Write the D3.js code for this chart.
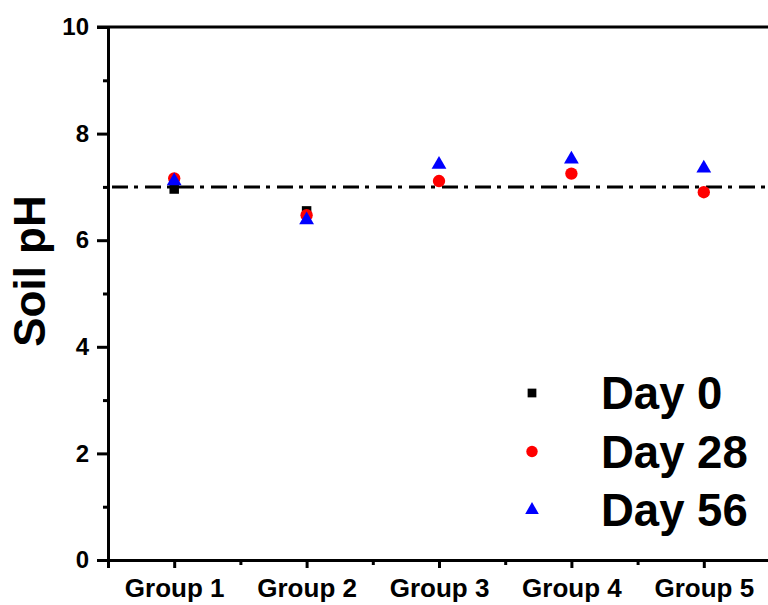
<!DOCTYPE html>
<html>
<head>
<meta charset="utf-8">
<script src="https://cdn.jsdelivr.net/npm/d3@7"></script>
<style>
  body { margin: 0; background: #fff; }
  svg text { font-family: 'Liberation Sans', Arial, sans-serif; font-weight: bold; }
</style>
</head>
<body>
<svg width="768" height="605"></svg>
<script>
const groups = ['Group 1', 'Group 2', 'Group 3', 'Group 4', 'Group 5']
const day0 = [6.96, 6.55, null, null, null]
const day28 = [7.16, 6.47, 7.11, 7.25, 6.90]
const day56 = [7.11, 6.38, 7.42, 7.52, 7.35]
const yTicks = [0, 2, 4, 6, 8, 10]
const refLine = 7

const width = 768
const height = 605
const margin = { top: 27, bottom: 45, left: 108, right: -2 }

const svg = d3.select('svg')

const xScale = d3.scaleLinear()
  .domain([0.5, groups.length + 0.5])
  .range([margin.left, width - margin.right])

const yScale = d3.scaleLinear()
  .domain([0, 10])
  .range([height - margin.bottom, margin.top])

/** y axis with outward major and minor ticks */
const yAxis = d3.axisLeft(yScale).tickValues(yTicks).tickSize(11).tickPadding(8)
const yMinor = d3.axisLeft(yScale).tickValues([1, 3, 5, 7, 9]).tickSize(5).tickFormat('')

const gy = svg.append('g').attr('transform', `translate(${margin.left},0)`).call(yAxis)
svg.append('g').attr('transform', `translate(${margin.left},0)`).call(yMinor)
  .call(g => g.select('.domain').remove())

/** x axis with group labels */
const xAxis = d3.axisBottom(xScale)
  .tickValues(d3.range(1, groups.length + 1))
  .tickFormat(d => groups[d - 1])
  .tickSize(8).tickPadding(11)
const xMinor = d3.axisBottom(xScale)
  .tickValues(d3.range(0.5, groups.length + 1, 1))
  .tickSize(5).tickFormat('')

const gx = svg.append('g').attr('transform', `translate(0,${yScale(0)})`).call(xAxis)
svg.append('g').attr('transform', `translate(0,${yScale(0)})`).call(xMinor)
  .call(g => g.select('.domain').remove())

svg.selectAll('.domain').attr('stroke', '#000').attr('stroke-width', 3)
svg.selectAll('.tick line').attr('stroke', '#000').attr('stroke-width', 3)
gy.selectAll('text').attr('font-size', 24).attr('fill', '#000')
gx.selectAll('text').attr('font-size', 26).attr('fill', '#000')

/** top frame line at the max tick */
svg.append('line')
  .attr('x1', margin.left - 11).attr('x2', width)
  .attr('y1', yScale(10)).attr('y2', yScale(10))
  .attr('stroke', '#000').attr('stroke-width', 3)

/** reference line at pH 7 */
svg.append('line')
  .attr('x1', margin.left + 4).attr('x2', width)
  .attr('y1', yScale(refLine)).attr('y2', yScale(refLine))
  .attr('stroke', '#000').attr('stroke-width', 3)
  .attr('stroke-dasharray', '16,6,4,7')

/** y title */
svg.append('text')
  .attr('transform', `translate(45,${271}) rotate(-90)`)
  .attr('text-anchor', 'middle')
  .attr('font-size', 44)
  .text('Soil pH')

/** series */
const series = [
  { name: 'Day 0', values: day0, color: '#000', symbol: d3.symbolSquare, size: 90 },
  { name: 'Day 28', values: day28, color: '#ff0000', symbol: d3.symbolCircle, size: 120 },
  { name: 'Day 56', values: day56, color: '#0000ff', symbol: d3.symbolTriangle, size: 95 }
]

series.forEach(s => {
  svg.append('g')
    .selectAll('path')
    .data(s.values.map((v, i) => ({ v, i })).filter(d => d.v !== null))
    .enter()
    .append('path')
    .attr('d', d3.symbol().type(s.symbol).size(s.size))
    .attr('transform', d => `translate(${xScale(d.i + 1)},${yScale(d.v)})`)
    .attr('fill', s.color)
})

/** legend */
const legend = svg.append('g').attr('transform', 'translate(532,393)')
series.forEach((s, i) => {
  const row = legend.append('g').attr('transform', `translate(0,${i * 58.5})`)
  row.append('path')
    .attr('d', d3.symbol().type(s.symbol).size(s.size * 0.85))
    .attr('fill', s.color)
  row.append('text')
    .attr('x', 69).attr('y', 16)
    .attr('font-size', 45.5)
    .text(s.name)
})
</script>
</body>
</html>
